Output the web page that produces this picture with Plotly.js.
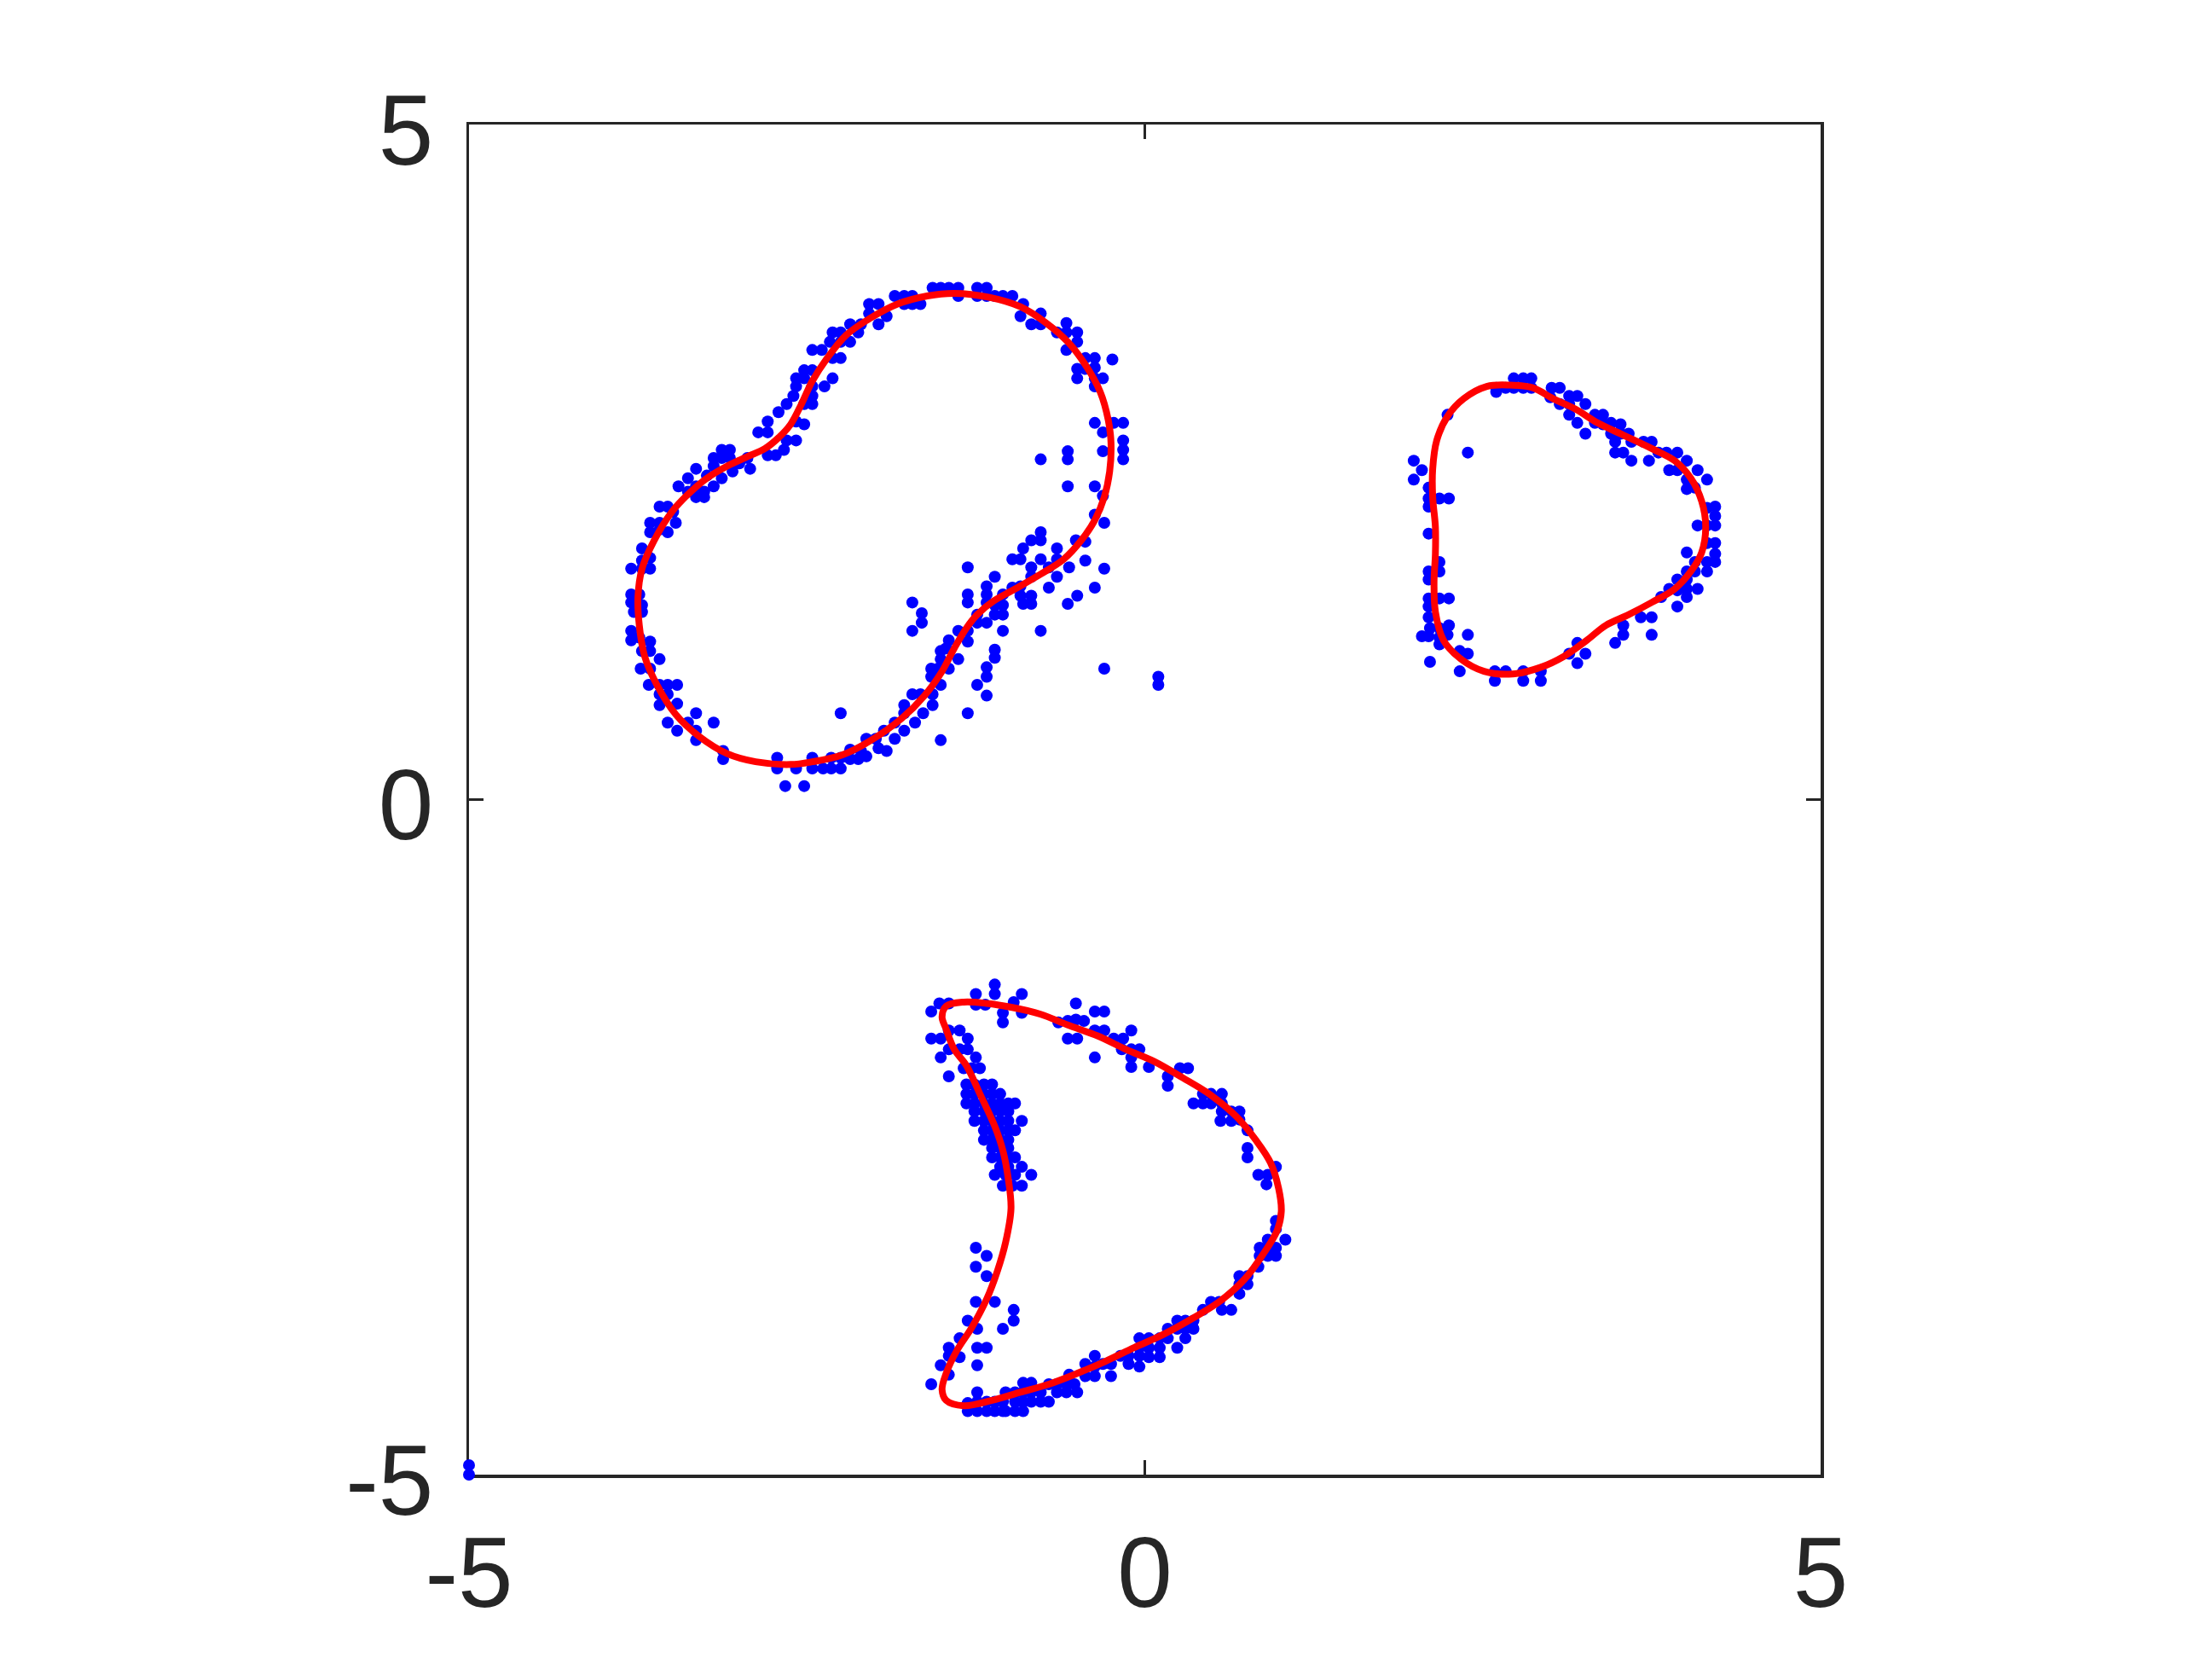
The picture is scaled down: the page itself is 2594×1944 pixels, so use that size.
<!DOCTYPE html>
<html>
<head>
<meta charset="utf-8">
<script src="https://cdn.plot.ly/plotly-3.0.1.min.js"></script>
<style>
  html, body { margin: 0; padding: 0; background: #fff; }
  #chart { width: 2594px; height: 1944px; }
</style>
</head>
<body>
<div id="chart"></div>
<script>
// axis ticks
var tickVals = [-5, 0, 5];
var tickText = ['-5', '0', '5'];

// fitted boundary curves (red)
var curve1X = [-1.41,-1.15,-0.92,-0.73,-0.57,-0.44,-0.33,-0.27,-0.25,-0.26,-0.30,-0.37,-0.47,-0.60,-0.77,-0.96,-1.12,-1.24,-1.32,-1.41,-1.50,-1.63,-1.80,-2.04,-2.24,-2.46,-2.62,-2.88,-3.09,-3.30,-3.47,-3.61,-3.70,-3.74,-3.75,-3.72,-3.63,-3.50,-3.38,-3.24,-3.09,-2.94,-2.81,-2.71,-2.62,-2.54,-2.46,-2.35,-2.21,-2.04,-1.83,-1.61,-1.41];
var curve1Y = [3.75,3.72,3.65,3.53,3.39,3.22,3.02,2.81,2.64,2.43,2.24,2.07,1.92,1.78,1.67,1.56,1.47,1.37,1.27,1.12,0.95,0.77,0.60,0.43,0.33,0.28,0.26,0.28,0.34,0.47,0.63,0.85,1.06,1.29,1.50,1.71,1.92,2.13,2.26,2.38,2.47,2.54,2.60,2.68,2.78,2.93,3.10,3.27,3.44,3.56,3.67,3.73,3.75];

var curve2X = [2.70,2.87,3.02,3.19,3.35,3.54,3.75,3.92,4.04,4.12,4.15,4.12,4.04,3.92,3.75,3.58,3.41,3.27,3.10,2.93,2.72,2.51,2.34,2.21,2.15,2.14,2.15,2.15,2.13,2.13,2.16,2.24,2.36,2.53,2.70];
var curve2Y = [3.07,3.05,2.97,2.89,2.79,2.70,2.60,2.51,2.38,2.21,2.02,1.83,1.69,1.56,1.46,1.37,1.29,1.18,1.06,0.98,0.93,0.95,1.04,1.18,1.39,1.61,1.82,2.02,2.24,2.45,2.66,2.84,2.97,3.06,3.07];

var curve3X = [-1.34,-1.17,-0.98,-0.77,-0.57,-0.35,-0.14,0.07,0.28,0.49,0.68,0.82,0.93,0.99,1.01,0.98,0.88,0.74,0.55,0.34,0.14,-0.08,-0.29,-0.50,-0.71,-0.92,-1.13,-1.34,-1.47,-1.50,-1.47,-1.39,-1.28,-1.17,-1.09,-1.03,-0.99,-1.01,-1.05,-1.11,-1.22,-1.32,-1.41,-1.47,-1.50,-1.47,-1.34];
var curve3Y = [-1.50,-1.51,-1.54,-1.59,-1.67,-1.75,-1.85,-1.94,-2.06,-2.19,-2.35,-2.52,-2.69,-2.88,-3.05,-3.19,-3.36,-3.55,-3.72,-3.85,-3.96,-4.06,-4.16,-4.25,-4.33,-4.39,-4.45,-4.49,-4.45,-4.37,-4.25,-4.08,-3.91,-3.70,-3.49,-3.28,-3.03,-2.81,-2.60,-2.42,-2.18,-1.97,-1.85,-1.70,-1.61,-1.53,-1.50];

// sample points (blue), [x, y]
var blob1Pts = [
  [-1.57,3.79],[-1.51,3.79],[-1.45,3.79],[-1.85,3.73],[-1.78,3.73],[-1.72,3.73],[-1.66,3.67],[-1.72,3.67],[-1.78,3.67],[-2.04,3.67],
  [-1.97,3.67],[-2.04,3.60],[-1.97,3.52],[-1.91,3.58],[-2.10,3.52],[-2.18,3.52],[-2.12,3.46],[-2.31,3.46],[-2.25,3.46],[-2.33,3.39],
  [-2.25,3.39],[-2.18,3.39],[-2.46,3.33],[-2.39,3.33],[-2.31,3.27],[-2.25,3.27],[-2.52,3.18],[-2.46,3.18],[-2.58,3.12],[-2.52,3.12],
  [-2.58,3.06],[-2.46,3.06],[-2.37,3.06],[-2.31,3.12],[-2.60,2.99],[-2.46,2.99],[-2.46,2.93],[-2.52,2.93],[-2.65,2.93],[-2.71,2.87],
  [-2.79,2.80],[-2.86,2.72],[-2.79,2.72],[-2.58,2.80],[-2.52,2.78],[-2.65,2.66],[-2.58,2.66],[-2.79,2.55],[-2.73,2.55],[-2.67,2.59],
  [-3.13,2.59],[-3.07,2.59],[-3.19,2.53],[-3.13,2.53],[-3.07,2.53],[-3.19,2.47],[-3.00,2.49],[-2.94,2.53],[-2.92,2.45],[-3.05,2.43],
  [-3.13,2.38],[-3.24,2.40],[-3.32,2.45],[-3.38,2.38],[-3.45,2.32],[-3.32,2.32],[-3.26,2.28],[-3.19,2.32],[-3.32,2.24],[-3.26,2.24],
  [-3.38,2.28],[-3.59,2.17],[-3.53,2.17],[-3.49,2.13],[-3.66,2.05],[-3.59,2.05],[-3.47,2.05],[-3.66,1.98],[-3.53,1.98],[-3.59,2.00],
  [-3.72,1.86],[-3.66,1.79],[-3.80,1.71],[-3.72,1.71],[-3.66,1.71],[-3.72,1.77],[-3.80,1.52],[-3.74,1.52],[-3.80,1.46],[-3.72,1.44],
  [-3.78,1.39],[-3.72,1.39],
  [-1.38,3.79],[-1.38,3.73],[-1.24,3.79],[-1.17,3.79],[-1.24,3.73],[-1.17,3.73],[-1.11,3.73],[-1.05,3.73],[-0.98,3.73],[-0.90,3.67],
  [-0.92,3.58],[-0.77,3.60],[-0.84,3.52],[-0.77,3.52],[-0.58,3.53],[-0.65,3.46],[-0.58,3.46],[-0.50,3.46],[-0.50,3.39],[-0.58,3.33],
  [-0.44,3.27],[-0.37,3.27],[-0.24,3.26],[-0.50,3.19],[-0.44,3.19],[-0.37,3.20],[-0.50,3.12],[-0.37,3.12],[-0.31,3.12],[-0.37,3.06],
  [-0.37,2.79],[-0.31,2.72],[-0.23,2.79],[-0.16,2.79],[-0.16,2.66],[-0.16,2.59],[-0.16,2.52],[-0.31,2.58],[-0.57,2.58],[-0.57,2.52],
  [-0.77,2.52],[-0.57,2.32],[-0.37,2.32],[-0.31,2.25],
  [-0.37,2.11],[-0.30,2.05],[-0.44,1.91],[-0.51,1.92],[-0.44,1.77],[-0.30,1.71],[-0.37,1.57],[-0.50,1.51],[-0.57,1.45],
  [-0.77,1.98],[-0.84,1.92],[-0.77,1.92],[-0.90,1.86],[-0.98,1.78],[-0.92,1.78],[-0.77,1.78],[-0.65,1.86],[-0.65,1.78],[-0.84,1.72],
  [-0.71,1.72],[-0.56,1.72],[-0.84,1.65],[-0.65,1.65],[-0.71,1.57],[-0.98,1.57],[-0.92,1.58],[-1.05,1.52],[-0.92,1.51],[-0.84,1.51],
  [-0.90,1.45],[-0.84,1.45],[-1.11,1.65],[-1.17,1.58],[-1.17,1.52],[-1.17,1.46],[-1.11,1.44],[-1.05,1.44],[-1.05,1.37],[-1.11,1.37],
  [-1.17,1.31],[-1.24,1.37],[-1.31,1.72],[-1.31,1.52],[-1.31,1.46],[-1.24,1.31],
  [-0.77,1.25],[-1.05,1.25],[-1.11,1.11],[-1.11,1.05],[-1.17,0.98],[-1.17,0.91],[-1.24,0.85],[-1.17,0.77],[-1.31,0.64],[-1.51,0.44],
  [-0.30,0.97],[0.10,0.91],[0.10,0.85],
  [-1.72,1.46],[-1.65,1.38],[-1.65,1.31],[-1.72,1.25],
  [-1.31,1.25],[-1.31,1.17],[-1.38,1.25],[-1.38,1.04],[-1.45,1.18],[-1.47,1.12],[-1.51,1.10],[-1.51,1.04],[-1.45,0.97],[-1.53,0.97],
  [-1.58,0.97],[-1.58,0.91],[-1.51,0.85],[-1.57,0.78],[-1.57,0.70],[-1.66,0.78],[-1.72,0.78],[-1.64,0.64],[-1.70,0.57],[-1.78,0.70],
  [-1.78,0.64],[-1.78,0.51],[-1.85,0.57],[-1.85,0.45],[-1.91,0.36],[-1.93,0.51],[-1.99,0.45],[-2.06,0.45],[-2.06,0.32],[-1.97,0.38],
  [-2.10,0.36],
  [-3.80,1.25],[-3.80,1.18],[-3.74,1.20],[-3.66,1.17],[-3.66,1.10],[-3.72,1.10],[-3.59,1.04],[-3.73,0.97],[-3.66,0.97],[-3.67,0.85],
  [-3.59,0.85],[-3.53,0.85],[-3.46,0.85],[-3.59,0.78],[-3.53,0.78],[-3.59,0.70],[-3.46,0.71],[-3.53,0.57],[-3.46,0.51],[-3.38,0.57],
  [-3.32,0.64],[-3.19,0.57],[-3.32,0.51],[-3.32,0.44],[-3.12,0.36],[-3.12,0.30],[-2.72,0.31],[-2.72,0.23],[-2.66,0.10],[-2.52,0.10],
  [-2.58,0.23],[-2.46,0.31],[-2.46,0.23],[-2.38,0.23],[-2.32,0.31],[-2.32,0.23],[-2.25,0.23],[-2.25,0.31],[-2.18,0.37],[-2.18,0.30],
  [-2.12,0.30],[-2.25,0.64]
];

var blob2Pts = [
  [2.73,3.12],[2.80,3.12],[2.86,3.12],[2.73,3.05],[2.80,3.05],[2.86,3.05],[2.60,3.05],[2.67,3.05],[2.60,3.02],
  [3.01,3.05],[3.07,3.05],[3.00,2.98],[3.14,2.99],[3.20,2.99],[3.07,2.93],[3.14,2.93],[3.26,2.93],[3.14,2.85],[3.20,2.79],
  [3.26,2.71],[3.33,2.85],[3.39,2.85],[3.33,2.79],[3.39,2.78],[3.45,2.79],[3.52,2.78],[3.45,2.71],[3.52,2.71],[3.58,2.71],
  [3.60,2.65],[3.48,2.65],[3.48,2.57],[3.54,2.57],[3.60,2.51],[3.69,2.65],[3.75,2.65],[3.73,2.51],[3.80,2.57],[3.86,2.57],
  [3.94,2.57],[3.88,2.44],[3.94,2.44],[4.01,2.51],[4.01,2.37],[4.09,2.44],[4.16,2.37],[4.01,2.30],[4.07,2.31],
  [4.22,2.17],[4.22,2.10],[4.22,2.03],[4.16,2.16],[4.16,2.03],[4.09,2.03],[4.16,1.90],[4.22,1.90],[4.22,1.82],[4.22,1.76],
  [4.16,1.76],[4.16,1.69],[4.01,1.83],[4.07,1.76],[4.07,1.69],[4.01,1.69],[4.01,1.63],[3.94,1.63],[3.88,1.56],[3.82,1.50],
  [3.94,1.55],[4.01,1.56],[4.09,1.56],[3.94,1.43],[4.01,1.50],
  [3.75,1.35],[3.67,1.35],[3.75,1.22],[3.54,1.29],[3.54,1.22],[3.48,1.16],[3.20,1.16],[3.14,1.08],[3.20,1.01],[3.26,1.08],
  [2.59,0.95],[2.67,0.95],[2.59,0.88],[2.80,0.95],[2.80,0.88],[2.93,0.95],[2.93,0.88],[2.33,0.95],[2.11,1.02],[2.39,1.08],
  [2.39,1.22],[2.33,1.10],
  [2.10,1.21],[2.05,1.21],[2.11,1.27],[2.18,1.27],[2.25,1.29],[2.18,1.20],[2.24,1.22],[2.18,1.15],[2.10,1.35],[2.10,1.43],
  [2.18,1.49],[2.25,1.49],[2.10,1.49],[2.18,1.69],[2.10,1.69],[2.10,1.63],[2.18,1.76],[2.10,1.97],[2.10,2.17],[2.10,2.23],
  [2.10,2.31],[2.18,2.23],[2.25,2.23],[1.99,2.51],[2.05,2.44],[1.99,2.37],[2.39,2.57],[2.24,2.85]
];

var blob3Pts = [
  [-1.11,-1.37],[-1.11,-1.44],[-1.25,-1.44],[-0.91,-1.44],[-0.97,-1.50],[-1.18,-1.52],[-1.25,-1.52],[-1.52,-1.51],[-1.45,-1.51],[-1.58,-1.57],
  [-1.05,-1.58],[-1.05,-1.65],[-0.91,-1.58],
  [-0.51,-1.51],[-0.37,-1.57],[-0.30,-1.57],[-0.45,-1.64],[-0.64,-1.65],[-0.57,-1.64],[-0.51,-1.63],[-0.37,-1.71],[-0.30,-1.71],[-0.57,-1.77],
  [-0.50,-1.77],[-0.37,-1.91],[-0.16,-1.77],[-0.10,-1.71],[-0.23,-1.77],[-0.17,-1.85],[-0.10,-1.85],[-0.04,-1.85],[-0.10,-1.91],
  [-1.58,-1.77],[-1.51,-1.77],[-1.45,-1.71],[-1.37,-1.71],[-1.31,-1.77],[-1.51,-1.91],[-1.45,-1.85],[-1.37,-1.85],[-1.31,-1.85],[-1.25,-1.91],
  [-1.45,-2.05],[-1.34,-1.99],[-1.28,-1.99],[-1.22,-1.99],
  [-1.32,-2.11],[-1.26,-2.11],[-1.19,-2.11],[-1.13,-2.11],
  [-1.32,-2.18],[-1.26,-2.18],[-1.19,-2.18],[-1.13,-2.18],[-1.07,-2.18],
  [-1.32,-2.25],[-1.26,-2.25],[-1.19,-2.25],[-1.13,-2.25],[-1.07,-2.25],[-1.01,-2.25],
  [-1.26,-2.31],[-1.19,-2.31],[-1.13,-2.31],[-1.07,-2.31],[-1.01,-2.31],[-0.96,-2.25],
  [-1.26,-2.38],[-1.19,-2.38],[-1.13,-2.38],[-1.07,-2.38],[-1.01,-2.38],[-0.91,-2.38],
  [-1.19,-2.45],[-1.13,-2.45],[-1.07,-2.45],[-1.01,-2.45],[-0.96,-2.45],
  [-1.19,-2.52],[-1.13,-2.52],[-1.07,-2.52],[-1.01,-2.52],
  [-1.13,-2.58],[-1.07,-2.58],[-1.01,-2.58],
  [-1.13,-2.65],[-1.07,-2.65],[-1.01,-2.65],[-0.96,-2.65],
  [-1.07,-2.72],[-1.01,-2.72],[-0.91,-2.72],
  [-1.11,-2.78],[-1.03,-2.78],[-0.96,-2.78],[-0.84,-2.78],
  [-1.05,-2.86],[-0.91,-2.86],[-0.98,-2.86],
  [-0.10,-1.98],[0.03,-1.98],[0.17,-2.05],[0.17,-2.12],[0.26,-1.99],[0.32,-1.99],
  [0.36,-2.25],[0.43,-2.25],[0.43,-2.18],[0.49,-2.18],[0.57,-2.18],[0.49,-2.25],[0.57,-2.25],[0.57,-2.31],[0.64,-2.31],[0.70,-2.31],
  [0.56,-2.38],[0.64,-2.38],[0.70,-2.37],[0.76,-2.45],[0.76,-2.58],[0.76,-2.65],[0.97,-2.72],[0.91,-2.78],[0.84,-2.78],[0.90,-2.85],
  [0.97,-3.12],[0.97,-3.18],[1.04,-3.26],[0.91,-3.26],[0.85,-3.32],[0.91,-3.32],[0.97,-3.32],[0.97,-3.38],[0.91,-3.38],[0.85,-3.38],
  [0.84,-3.46],[0.70,-3.53],[0.76,-3.53],[0.70,-3.59],[0.76,-3.59],[0.70,-3.66],[0.49,-3.72],[0.55,-3.72],[0.57,-3.78],[0.64,-3.78],
  [0.43,-3.78],[0.36,-3.86],[0.30,-3.86],[0.24,-3.86],[0.24,-3.92],[0.30,-3.92],[0.36,-3.92],[0.17,-3.92],[0.30,-3.99],[0.24,-4.06],
  [0.17,-3.99],[0.11,-3.99],[0.03,-3.99],[-0.04,-3.99],[-0.04,-4.06],[0.03,-4.06],[0.11,-4.06],[0.03,-4.13],[0.11,-4.13],[-0.04,-4.12],
  [-0.12,-4.12],[-0.18,-4.12],[-0.12,-4.18],[-0.04,-4.20],[-0.25,-4.18],[-0.31,-4.18],[-0.37,-4.12],[-0.44,-4.18],[-0.37,-4.20],[-0.25,-4.27],
  [-0.37,-4.27],[-0.44,-4.27],[-0.56,-4.26],[-0.52,-4.33],[-0.58,-4.33],[-0.65,-4.33],[-0.71,-4.33],[-0.65,-4.39],[-0.58,-4.39],[-0.50,-4.39],
  [-0.77,-4.39],[-0.84,-4.32],[-0.90,-4.32],[-0.84,-4.39],[-0.90,-4.39],[-0.96,-4.39],[-1.03,-4.39],[-1.05,-4.46],[-0.96,-4.46],[-0.90,-4.46],
  [-0.84,-4.46],[-0.77,-4.46],[-0.71,-4.46],[-0.90,-4.53],[-0.96,-4.53],[-1.03,-4.53],[-1.11,-4.46],[-1.17,-4.46],[-1.24,-4.46],[-1.31,-4.47],
  [-1.31,-4.53],[-1.24,-4.53],[-1.17,-4.53],[-1.11,-4.53],[-1.05,-4.53],[-1.24,-4.39],
  [-1.25,-3.32],[-1.17,-3.38],[-1.25,-3.46],[-1.17,-3.53],[-1.25,-3.72],[-1.11,-3.72],[-0.97,-3.78],[-0.97,-3.86],[-1.05,-3.92],[-1.31,-3.86],
  [-1.24,-3.92],[-1.37,-3.99],[-1.45,-4.06],[-1.24,-4.06],[-1.17,-4.06],[-1.45,-4.12],[-1.37,-4.13],[-1.51,-4.19],[-1.24,-4.19],[-1.45,-4.26],
  [-1.58,-4.33]
];

var cornerPts = [[-5,-5],[-5,-4.93]];

var allPts = blob1Pts.concat(blob2Pts, blob3Pts, cornerPts);

var points = {
  type: 'scatter',
  mode: 'markers',
  x: allPts.map(function(p){ return p[0]; }),
  y: allPts.map(function(p){ return p[1]; }),
  marker: {color: '#0000ff', size: 14, line: {width: 0}},
  cliponaxis: false,
  hoverinfo: 'skip'
};

function curveTrace(xs, ys) {
  return {
    type: 'scatter',
    mode: 'lines',
    x: xs,
    y: ys,
    line: {color: '#ff0000', width: 8, shape: 'spline', smoothing: 1},
    hoverinfo: 'skip'
  };
}

var data = [points, curveTrace(curve1X, curve1Y), curveTrace(curve2X, curve2Y), curveTrace(curve3X, curve3Y)];

var tickFont = {family: 'Liberation Sans, Arial, sans-serif', size: 116, color: '#262626'};

var layout = {
  width: 2594,
  height: 1944,
  margin: {l: 550, r: 459, t: 146, b: 215},
  paper_bgcolor: 'white',
  plot_bgcolor: 'white',
  showlegend: false,
  xaxis: {
    range: [-5, 5],
    tickvals: tickVals,
    ticktext: tickText,
    ticks: 'inside',
    ticklen: 17,
    tickwidth: 3,
    tickcolor: '#262626',
    showline: true,
    linewidth: 3.5,
    linecolor: '#262626',
    mirror: 'ticks',
    showgrid: false,
    zeroline: false,
    layer: 'below traces',
    ticklabelstandoff: 12,
    tickfont: tickFont
  },
  yaxis: {
    range: [-5, 5],
    tickvals: tickVals,
    ticktext: tickText,
    ticks: 'inside',
    ticklen: 17,
    tickwidth: 3,
    tickcolor: '#262626',
    showline: true,
    linewidth: 3.5,
    linecolor: '#262626',
    mirror: 'ticks',
    showgrid: false,
    zeroline: false,
    layer: 'below traces',
    ticklabelstandoff: 15,
    ticklabelshift: 6,
    tickfont: tickFont
  }
};

var config = {responsive: false, displayModeBar: false, staticPlot: true};

Plotly.newPlot('chart', data, layout, config);
</script>
</body>
</html>
